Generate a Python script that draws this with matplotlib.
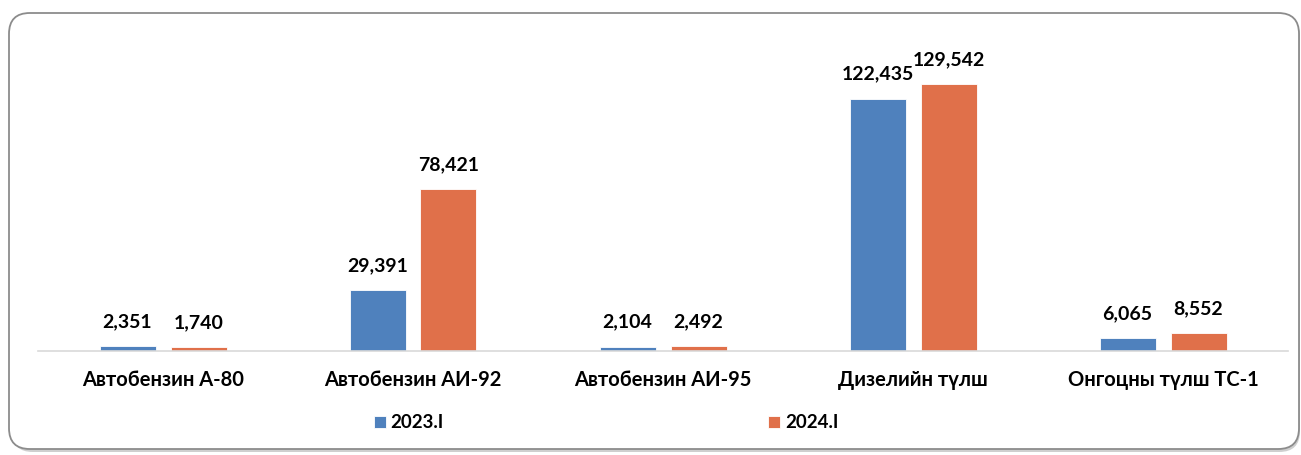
import numpy as np
import matplotlib
matplotlib.use('Agg')
import matplotlib.pyplot as plt
from matplotlib.patches import FancyBboxPatch

categories = ['Автобензин А-80', 'Автобензин АИ-92', 'Автобензин АИ-95',
              'Дизелийн түлш', 'Онгоцны түлш ТС-1']
series_names = ['2023.I', '2024.I']
values_2023 = [2351, 29391, 2104, 122435, 6065]
values_2024 = [1740, 78421, 2492, 129542, 8552]
colors = ['#4F81BD', '#E0704A']

plt.rcParams['font.family'] = ['Lato', 'DejaVu Sans']

W, H = 1301, 455
fig = plt.figure(figsize=(W / 100, H / 100), dpi=100)

# rounded frame with a soft shadow (drawn behind the axes)
shadow = FancyBboxPatch((12 / W, 3 / H), 1288 / W, 436 / H,
                        boxstyle='round,pad=0,rounding_size=0.016',
                        transform=fig.transFigure, facecolor='#cfcfcf',
                        edgecolor='none', zorder=-2, mutation_aspect=W / H)
frame = FancyBboxPatch((9 / W, 6 / H), 1290 / W, 436 / H,
                       boxstyle='round,pad=0,rounding_size=0.016',
                       transform=fig.transFigure, facecolor='white',
                       edgecolor='#8c8c8c', linewidth=1.3, zorder=-1,
                       mutation_aspect=W / H)
fig.patches.extend([shadow, frame])

# axes: baseline at y=351 px, from x=38 to x=1288
left, right, base, top = 38, 1288, 351, 30
ax = fig.add_axes([left / W, (H - base) / H, (right - left) / W, (base - top) / H])
ax.set_facecolor('none')

x = np.arange(len(categories))
w = 0.224
off = 0.142
b1 = ax.bar(x - off, values_2023, w, color=colors[0], label=series_names[0],
            edgecolor='white', linewidth=0.6)
b2 = ax.bar(x + off, values_2024, w, color=colors[1], label=series_names[1],
            edgecolor='white', linewidth=0.6)

for bars, vals in ((b1, values_2023), (b2, values_2024)):
    for r, v in zip(bars, vals):
        ax.annotate(f'{v:,}', (r.get_x() + r.get_width() / 2, v),
                    xytext=(0, 11.5), textcoords='offset points',
                    ha='center', va='bottom', fontsize=14, fontweight='bold')

ax.set_xlim(-0.5, len(categories) - 0.5)
ax.set_ylim(0, (base - top) * 485)
ax.set_xticks(x)
ax.set_xticklabels(categories, fontsize=14.5, fontweight='bold')
ax.tick_params(axis='x', length=0, pad=14)
ax.set_yticks([])
for s in ['top', 'right', 'left']:
    ax.spines[s].set_visible(False)
ax.spines['bottom'].set_color('#d9d9d9')
ax.spines['bottom'].set_linewidth(1.2)

leg = fig.legend(loc='center', bbox_to_anchor=(606 / W, (H - 423) / H),
                 ncol=2, frameon=False, handlelength=0.65, handleheight=0.65,
                 handletextpad=0.25, columnspacing=17.3,
                 prop={'weight': 'bold', 'size': 13.5})

fig.savefig('out.png', dpi=100)
